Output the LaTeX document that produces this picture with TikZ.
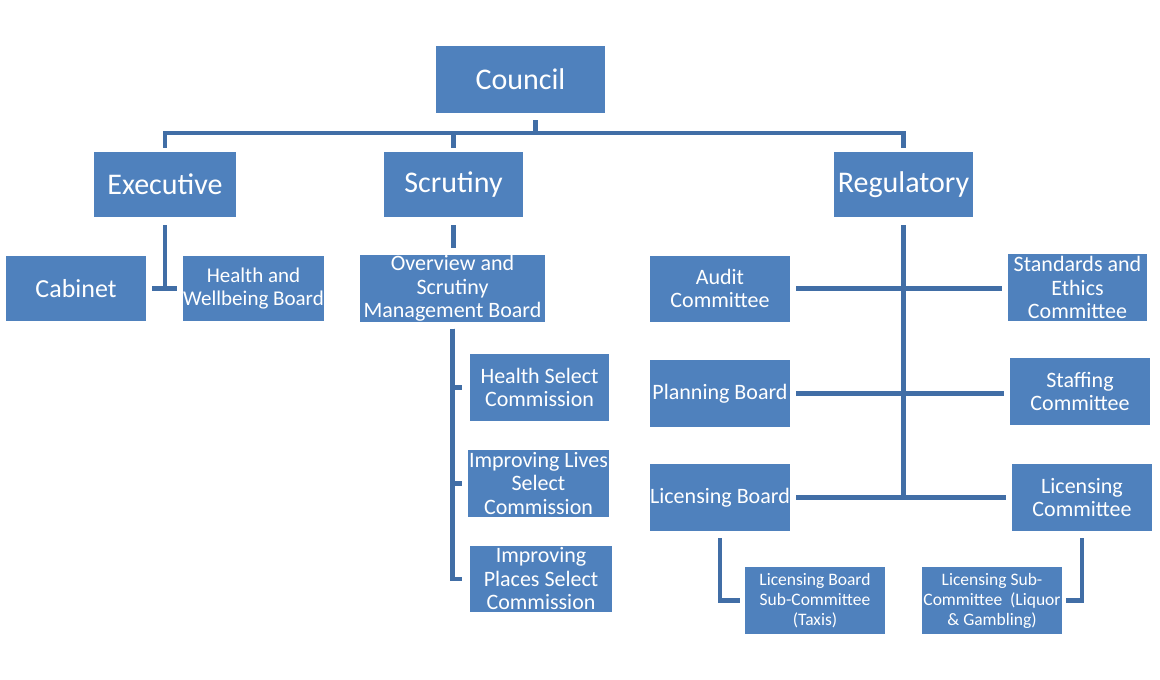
\documentclass[tikz,border=0pt]{standalone}
\usepackage{fontspec}
\setmainfont{Carlito}
\usetikzlibrary{positioning}
\definecolor{boxblue}{HTML}{4F81BD}
\definecolor{linkblue}{HTML}{416EA6}

\begin{document}
\begin{tikzpicture}[x=1pt, y=-1pt,
  box/.style={fill=boxblue, text=white, align=center, inner sep=0pt, minimum width=140pt, minimum height=66pt, font=\fontsize{22}{23.5}\selectfont},
  head/.style={box, minimum height=65pt, font=\fontsize{30}{34}\selectfont},
  leaf/.style={box, minimum height=67pt, font=\fontsize{17.5}{20}\selectfont},
  lnk/.style={draw=linkblue, line width=4.5pt}]
  \fill[white] (0,0) rectangle (1160,680);
  \path[use as bounding box] (0,0) rectangle (1160,680);
  % top levels
  \node[head, minimum width=169pt, minimum height=67pt] (council) at (520.5,79.5) {Council};
  \node[head, minimum width=142pt] (exec) at (165,184.5) {Executive};
  \node[head, minimum width=139pt] (scrut) at (453.5,184.5) {Scrutiny};
  \node[head, minimum width=139pt] (reg) at (903.5,184.5) {Regulatory};
  \draw[lnk, shorten <=7pt, shorten >=4pt] ([xshift=15pt]council.south) -- ++(0,20) -| (exec.north);
  \draw[lnk, shorten <=7pt, shorten >=4pt] ([xshift=15pt]council.south) -- ++(0,20) -| (scrut.north);
  \draw[lnk, shorten <=7pt, shorten >=4pt] ([xshift=15pt]council.south) -- ++(0,20) -| (reg.north);
  % executive
  \node[box, font=\fontsize{26}{28}\selectfont, minimum height=65pt] (cab) at (76,288.5) {Cabinet};
  \node[box, font=\fontsize{21}{23.5}\selectfont, minimum width=139pt, minimum height=65pt] (hwb) at (253.5,288.5) {Health and\\Wellbeing Board};
  \coordinate (execT) at (exec.south |- cab.east);
  \draw[lnk, shorten <=8pt] (exec.south) -- (execT);
  \draw[lnk] ([xshift=-13pt]execT) -- ([xshift=12pt]execT);
  % scrutiny
  \node[box, minimum width=185pt, minimum height=65pt] (osmb) at (452.5,288.5) {Overview and\\Scrutiny\\Management Board};
  \node[box, minimum width=139pt, minimum height=67pt] (hsc) at (539.5,387.5) {Health Select\\Commission};
  \node[box, minimum width=141pt, minimum height=67pt] (ilsc) at (538.5,483.5) {Improving Lives\\Select\\Commission};
  \node[box, minimum width=142pt] (ipsc) at (541,579) {Improving\\Places Select\\Commission};
  \draw[lnk, shorten <=8pt, shorten >=7pt] (scrut.south) -- (scrut.south |- osmb.north);
  \draw[lnk, shorten <=7pt, shorten >=8pt] (osmb.south) |- (hsc.west);
  \draw[lnk, shorten <=7pt, shorten >=6pt] (osmb.south) |- (ilsc.west);
  \draw[lnk, shorten <=7pt, shorten >=8pt] (osmb.south) |- (ipsc.west);
  % regulatory
  \node[box] (audit) at (720,288.5) {Audit\\Committee};
  \node[box, minimum width=139pt, minimum height=67pt] (sec) at (1077.5,287.5) {Standards and\\Ethics\\Committee};
  \node[box, minimum height=67pt] (plan) at (720,393.5) {Planning Board};
  \node[box, minimum height=67pt] (staff) at (1080,391.5) {Staffing\\Committee};
  \node[box, minimum height=67pt] (lb) at (720,497.5) {Licensing Board};
  \node[box, minimum height=67pt] (lc) at (1082,497.5) {Licensing\\Committee};
  \draw[lnk, shorten <=8pt] (reg.south) -- (reg.south |- lb.east);
  \draw[lnk, shorten <=6pt, shorten >=6pt] (audit.east) -- (audit.east -| sec.west);
  \draw[lnk, shorten <=6pt, shorten >=6pt] (plan.east) -- (plan.east -| staff.west);
  \draw[lnk, shorten <=6pt, shorten >=6pt] (lb.east) -- (lb.east -| lc.west);
  % licensing sub-committees
  \node[leaf] (lbsc) at (815,600.5) {Licensing Board\\Sub-Committee\\(Taxis)};
  \node[leaf] (lsc) at (992,600.5) {Licensing Sub-\\Committee\ \ (Liquor\\\& Gambling)};
  \draw[lnk, shorten <=7pt, shorten >=5pt] (lb.south) |- (lbsc.west);
  \draw[lnk, shorten <=7pt, shorten >=4pt] (lc.south) |- (lsc.east);
\end{tikzpicture}
\end{document}
